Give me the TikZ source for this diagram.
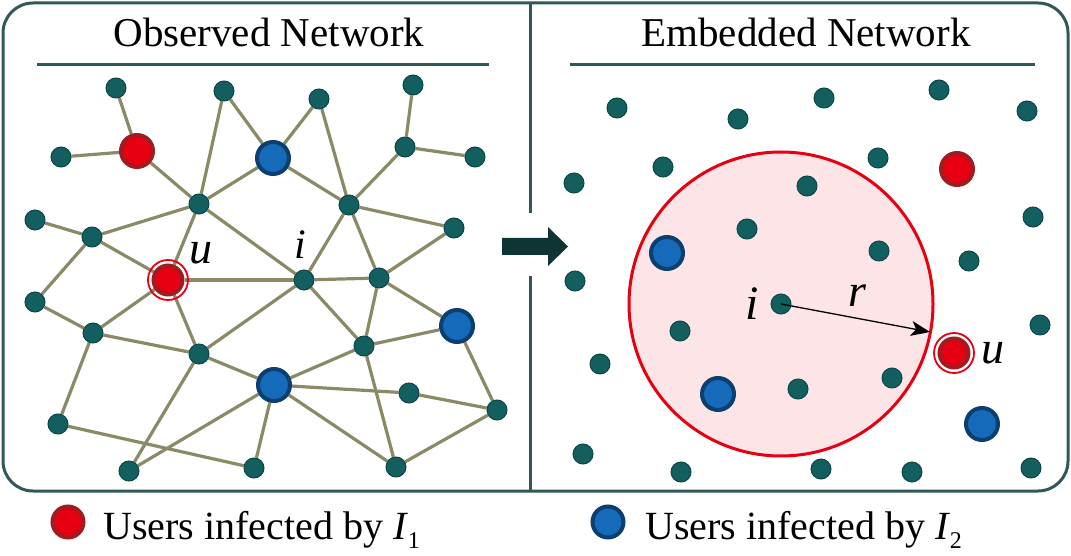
\documentclass[tikz,border=0pt]{standalone}
\usepackage{fontspec}
\setmainfont{Liberation Serif}
\usetikzlibrary{arrows.meta,backgrounds}
\definecolor{tealn}{HTML}{135E5E}
\definecolor{tealb}{HTML}{0C4848}
\definecolor{redf}{HTML}{E60012}
\definecolor{redb}{HTML}{9E1C22}
\definecolor{bluef}{HTML}{156BBA}
\definecolor{blueb}{HTML}{0C3F70}
\definecolor{edgec}{HTML}{8A8A66}
\definecolor{framec}{HTML}{2F5858}
\definecolor{arrowc}{HTML}{0E3534}
\definecolor{pinkf}{HTML}{FCE4E7}
\begin{document}
\begin{tikzpicture}[x=1pt,y=-1pt,
  tn/.style={circle,inner sep=0pt,minimum size=20pt,fill=tealn,draw=tealb,line width=1pt},
  rn/.style={circle,inner sep=0pt,minimum size=32pt,fill=redf,draw=redb,line width=4pt},
  bn/.style={circle,inner sep=0pt,minimum size=32pt,fill=bluef,draw=blueb,line width=4pt},
  un/.style={circle,inner sep=0pt,minimum size=29pt,fill=redf,draw=redb,line width=4pt},
  ring/.style={draw=redf,line width=1.8pt},
  edge/.style={draw=edgec,line width=3.2pt},
  framel/.style={draw=framec,line width=3pt},
  lab/.style={inner sep=0pt,font=\fontsize{46}{46}\selectfont\itshape},
  ttl/.style={inner sep=0pt,anchor=base,font=\fontsize{41}{49}\selectfont},
  leg/.style={inner sep=0pt,anchor=base west,font=\fontsize{40}{40}\selectfont}]
\useasboundingbox (0,0) rectangle (1071,556);
% frame
\draw[framel,rounded corners=30pt] (3,3) rectangle (1068,491);
\draw[framel] (530,3) -- (530,213);
\draw[framel] (530,276) -- (530,491);
% titles
\node[ttl] (t1) at (269,47) {Observed Network};
\node[ttl] (t2) at (806,47) {Embedded Network};
\draw[framel] (37,65) -- (489,65);
\draw[framel] (570,65) -- (1035,65);
% transition arrow
\fill[arrowc] (502,238) -- (548,238) -- (548,227) -- (568,246.5) -- (548,266) -- (548,255) -- (502,255) -- cycle;
% ---------- left network ----------
\node[tn] (n1) at (116,88) {};
\node[tn] (n2) at (224,91) {};
\node[rn] (red1) at (137,151) {};
\node[tn] (n3) at (61,157) {};
\node[tn] (n4) at (199,204) {};
\node[tn] (n5) at (35,220) {};
\node[tn] (n6) at (92,237) {};
\node[un] (uL) at (168,280) {};
\draw[ring] (uL) circle (20);
\node[bn] (blue1) at (273,158) {};
\node[tn] (n7) at (319,99) {};
\node[tn] (n8) at (413,85) {};
\node[tn] (n9) at (405,147) {};
\node[tn] (n10) at (475,157) {};
\node[tn] (n11) at (349,205) {};
\node[tn] (n12) at (454,228) {};
\node[tn] (iL) at (304,280) {};
\node[tn] (n13) at (379,278) {};
\node[tn] (n14) at (35,302) {};
\node[tn] (n15) at (93,333) {};
\node[tn] (n16) at (199,354) {};
\node[tn] (n17) at (58,424) {};
\node[tn] (n18) at (129,471) {};
\node[tn] (n19) at (254,468) {};
\node[bn] (blue2) at (274,385) {};
\node[bn] (blue3) at (457,326) {};
\node[tn] (n20) at (364,346) {};
\node[tn] (n21) at (409,393) {};
\node[tn] (n22) at (497,410) {};
\node[tn] (n23) at (396,467) {};
\begin{pgfonlayer}{background}
\foreach \a/\b in {n1/red1,n3/red1,red1/n4,n2/n4,n2/blue1,blue1/n4,blue1/n7,n7/n11,
  blue1/n11,n8/n9,n9/n10,n9/n11,n11/n12,n11/iL,n11/n13,n12/n13,n4/n6,n4/uL,n4/iL,
  n5/n6,n6/uL,n6/n14,n14/n15,uL/n15,uL/iL,uL/n16,n15/n16,n15/n17,n16/iL,n16/blue2,
  n16/n18,n17/n19,n18/blue2,blue2/n19,blue2/n20,blue2/n21,blue2/n23,iL/n13,iL/n20,
  n13/n20,n13/blue3,n20/blue3,n20/n23,n21/n22,blue3/n22,n22/n23}
  \draw[edge] (\a) -- (\b);
\end{pgfonlayer}
\node[lab] (luL) at (201,253) {u};
\node[lab,font=\fontsize{42}{42}\selectfont\itshape] (liL) at (300,245) {i};
% ---------- right embedding ----------
\node[circle,inner sep=0pt,minimum size=304pt,fill=pinkf,draw=redf,line width=3pt] (ball) at (781,304) {};
\foreach \n/\x/\y in {r1/617/108,r2/738/119,r3/663/167,r4/574/183,r5/807/186,r6/747/229,
  r7/575/281,r8/824/98,r9/939/90,r10/1027/111,r11/878/158,r12/1033/217,r13/879/251,
  r14/969/261,r15/680/331,r16/600/364,r17/798/389,r18/583/454,r19/681/472,r20/1040/325,
  r21/892/378,r22/821/469,r23/912/472,r24/1031/468}
  \node[tn] (\n) at (\x,\y) {};
\node[tn] (iR) at (781,304) {};
\node[bn] (blueA) at (667,253) {};
\node[bn] (blueB) at (718,394) {};
\node[bn] (blueC) at (982,424) {};
\node[rn] (redB) at (957,169) {};
\node[un] (uR) at (954,353) {};
\draw[ring] (uR) circle (20);
\coordinate (rtip) at (930,332);
\draw[-{Stealth[length=19pt,width=15pt,inset=5pt]},line width=1.3pt] (iR.center) -- (rtip);
\node[lab,font=\fontsize{48}{48}\selectfont\itshape] (liR) at (752,304) {i};
\node[lab] (lr) at (857,296) {r};
\node[lab] (luR) at (993,353) {u};
% ---------- legend ----------
\node[rn,minimum size=31pt] (legR) at (68,522) {};
\node[leg] (legRt) at (103,539) {Users infected by \textit{I}\raisebox{-9pt}{\fontsize{24}{24}\selectfont 1}};
\node[bn,minimum size=31pt] (legB) at (608,522) {};
\node[leg] (legBt) at (645,539) {Users infected by \textit{I}\raisebox{-9pt}{\fontsize{24}{24}\selectfont 2}};
\end{tikzpicture}
\end{document}
